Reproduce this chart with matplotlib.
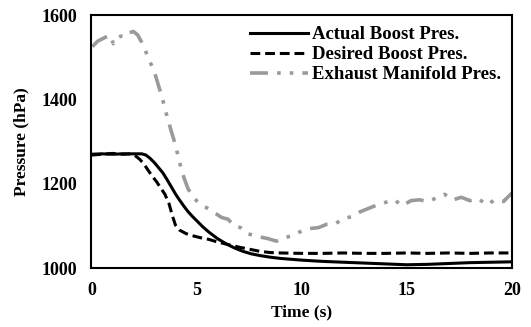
import numpy as np
import matplotlib.pyplot as plt

plt.rcParams['font.family'] = 'Liberation Serif'
plt.rcParams['font.weight'] = 'bold'

# boost pressure, actual (hPa)
t_act = [0, 0.5, 1.0, 1.5, 2.0, 2.4, 2.6, 2.8, 3.0, 3.2, 3.4, 3.6, 3.8, 4.0, 4.2, 4.4,
         4.6, 4.8, 5.0, 5.3, 5.6, 6.0, 6.4, 6.8, 7.2, 7.6, 8.0, 8.5, 9.0, 9.5, 10.0,
         11.0, 12.0, 13.0, 14.0, 15.0, 16.0, 17.0, 18.0, 19.0, 20.0]
p_act = [1270, 1271, 1270, 1271, 1271, 1271, 1268, 1260, 1250, 1238, 1226, 1210, 1193,
         1176, 1161, 1147, 1134, 1123, 1113, 1098, 1085, 1070, 1058, 1048, 1040, 1034,
         1030, 1026, 1023, 1021, 1019, 1016, 1014, 1012, 1010, 1008, 1009, 1011, 1013,
         1014, 1015]

# boost pressure, desired (hPa)
t_des = [0, 0.5, 1.0, 1.5, 1.9, 2.1, 2.3, 2.5, 2.7, 2.9, 3.1, 3.3, 3.5, 3.7, 3.85, 4.0,
         4.2, 4.5, 4.8, 5.2, 5.6, 6.0, 6.5, 7.0, 7.5, 8.0, 8.5, 9.0, 10.0, 11.0, 12.0,
         13.0, 14.0, 15.0, 16.0, 17.0, 18.0, 19.0, 20.0]
p_des = [1268, 1270, 1272, 1270, 1271, 1266, 1258, 1247, 1232, 1218, 1205, 1190, 1175,
         1152, 1125, 1102, 1090, 1082, 1077, 1072, 1068, 1062, 1056, 1050, 1045, 1040,
         1037, 1036, 1035, 1035, 1036, 1035, 1035, 1036, 1035, 1036, 1035, 1036, 1036]

# exhaust manifold pressure (hPa)
t_exh = [0.05, 0.3, 0.5, 0.7, 0.9, 1.05, 1.2, 1.4, 1.6, 1.8, 2.0, 2.2, 2.4, 2.6, 2.8,
         3.0, 3.2, 3.4, 3.6, 3.8, 4.0, 4.2, 4.4, 4.6, 4.8, 5.0, 5.3, 5.6, 5.9, 6.2,
         6.5, 6.8, 7.1, 7.4, 7.7, 8.0, 8.4, 8.8, 9.2, 9.6, 10.0, 10.4, 10.8, 11.2,
         11.6, 12.0, 12.4, 12.8, 13.2, 13.6, 14.0, 14.4, 14.8, 15.2, 15.6, 16.0, 16.4,
         16.8, 17.2, 17.6, 18.0, 18.4, 18.8, 19.2, 19.6, 20.0]
p_exh = [1525, 1538, 1543, 1548, 1552, 1532, 1545, 1550, 1548, 1558, 1561, 1553, 1535,
         1512, 1488, 1465, 1432, 1398, 1360, 1325, 1292, 1250, 1215, 1188, 1172, 1160,
         1148, 1140, 1130, 1120, 1116, 1100, 1096, 1082, 1078, 1074, 1070, 1064, 1072,
         1078, 1088, 1094, 1096, 1104, 1105, 1118, 1122, 1134, 1142, 1150, 1156, 1162,
         1148, 1160, 1162, 1158, 1166, 1175, 1162, 1168, 1160, 1165, 1150, 1162, 1158,
         1178]

fig, ax = plt.subplots(figsize=(5.31, 3.27), dpi=100)
fig.subplots_adjust(left=0.172, right=0.964, top=0.954, bottom=0.18)

ax.plot(t_act, p_act, color='black', lw=2.2, label='Actual Boost Pres.')
ax.plot(t_des, p_des, color='black', lw=2.2, ls=(0, (3.2, 1.6)), label='Desired Boost Pres.')
ax.plot(t_exh, p_exh, color='#9a9a9a', lw=2.6, ls=(0, (5, 2.5, 1, 2.5, 1, 2.5)),
        label='Exhaust Manifold Pres.')

ax.set_xlim(0, 20)
ax.set_ylim(1000, 1600)
ax.set_xticks([0, 5, 10, 15, 20])
ax.set_yticks([1000, 1200, 1400, 1600])
ax.tick_params(length=0, labelsize=13, pad=10)
for s in ax.spines.values():
    s.set_linewidth(1.5)

ax.set_xlabel('Time (s)', fontsize=12.5, fontweight='bold', labelpad=4)
ax.set_ylabel('Pressure (hPa)', fontsize=12.5, fontweight='bold', labelpad=9)

ax.legend(loc='upper right', frameon=False, fontsize=13.5, handlelength=3.1,
          handletextpad=0.2, labelspacing=0.15, borderaxespad=0.2)

fig.savefig('out.png', dpi=100)
